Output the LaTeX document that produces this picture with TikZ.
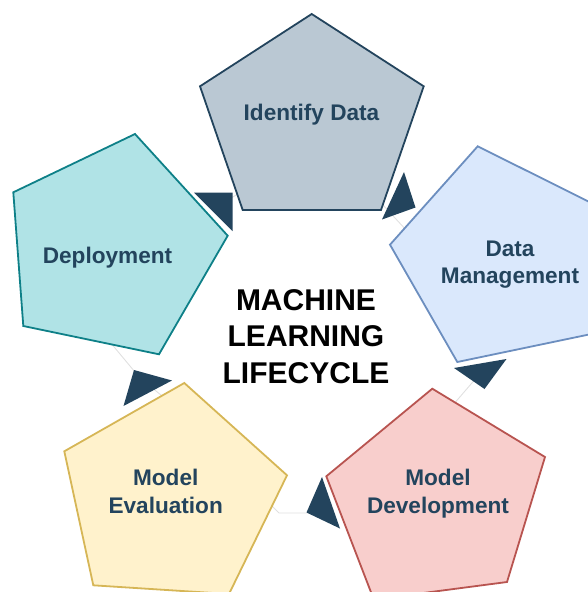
\documentclass[tikz,border=0pt]{standalone}
\usepackage{fontspec}
\setmainfont{Liberation Sans}
\usepackage{xcolor}

\definecolor{navy}{HTML}{23445D}
\definecolor{slatefill}{HTML}{BAC8D3}
\definecolor{bluefill}{HTML}{DAE8FC}
\definecolor{blueline}{HTML}{6C8EBF}
\definecolor{redfill}{HTML}{F8CECC}
\definecolor{redline}{HTML}{B85450}
\definecolor{yellowfill}{HTML}{FFF2CC}
\definecolor{yellowline}{HTML}{D6B656}
\definecolor{tealfill}{HTML}{B0E3E6}
\definecolor{tealline}{HTML}{0E8088}

\begin{document}
\begin{tikzpicture}[x=1pt, y=-1pt,
  phase/.style={line width=1.8pt, line join=miter},
  phasetext/.style={font=\bfseries\fontsize{22.6}{27.4}\selectfont, text=navy, align=center, anchor=base, inner sep=0pt},
  hub/.style={font=\bfseries\fontsize{30}{36.3}\selectfont, align=center, anchor=base, inner sep=0pt},
  turn/.style={fill=navy},
  link/.style={draw=black!12, line width=0.9pt}
]
  \clip (0,0) rectangle (588,592);

  % thin links running under the stages
  \coordinate (l51a) at (214,208);  \coordinate (l51b) at (255,184);
  \coordinate (l12a) at (383,205);  \coordinate (l12b) at (420,245);
  \coordinate (l23a) at (490,362);  \coordinate (l23b) at (440,420);
  \coordinate (l34a) at (325,513);  \coordinate (l34m) at (279,513); \coordinate (l34b) at (262,496);
  \coordinate (l45a) at (172,404);  \coordinate (l45m) at (140,378); \coordinate (l45b) at (110,342);
  \draw[link] (l51a) -- (l51b);
  \draw[link] (l12a) -- (l12b);
  \draw[link] (l23a) -- (l23b);
  \draw[link] (l34a) -- (l34m) -- (l34b);
  \draw[link] (l45a) -- (l45m) -- (l45b);

  % the five stages
  \draw[phase, draw=navy, fill=slatefill] (311.7,14) -- (423.7,86.3) -- (381,210) -- (242.7,210) -- (200,86.3) -- cycle;
  \draw[phase, draw=blueline, fill=bluefill] (477.7,146.3) -- (596.7,205.6) -- (590.4,334.2) -- (457.3,362) -- (390,244.7) -- cycle;
  \draw[phase, draw=redline, fill=redfill] (432.3,388.7) -- (545,457) -- (507,582) -- (373.8,599.5) -- (326.3,476.3) -- cycle;
  \draw[phase, draw=yellowline, fill=yellowfill] (184.3,383) -- (287,475.3) -- (229,594) -- (93.3,585.3) -- (64.3,451.3) -- cycle;
  \draw[phase, draw=tealline, fill=tealfill] (135,134) -- (227.7,235.7) -- (159,354.3) -- (23.3,326) -- (13.3,192.3) -- cycle;

  % base of a two-line label sits on its last line
  \node[phasetext] (identify) at (311.5,120.7) {Identify Data};
  \node[phasetext] (manage) at (510,283.7) {Data\\Management};
  \node[phasetext] (develop) at (438,513) {Model\\Development};
  \node[phasetext] (evaluate) at (165.7,513) {Model\\Evaluation};
  \node[phasetext] (deploy) at (107.5,263.3) {Deployment};

  \node[hub] (cycle) at (306,383.1) {MACHINE\\LEARNING\\LIFECYCLE};

  % turning arrows between stages
  \fill[turn] (194,192.5) -- (232.5,192.5) -- (232.5,231) -- cycle;
  \fill[turn] (404,172) -- (415.5,207.5) -- (382,219.5) -- cycle;
  \fill[turn] (454,368) -- (506.5,359) -- (484.5,389) -- cycle;
  \fill[turn] (322,477) -- (340,528.5) -- (306.5,512.5) -- cycle;
  \fill[turn] (134,370) -- (172,380.5) -- (123.5,406) -- cycle;
\end{tikzpicture}
\end{document}
